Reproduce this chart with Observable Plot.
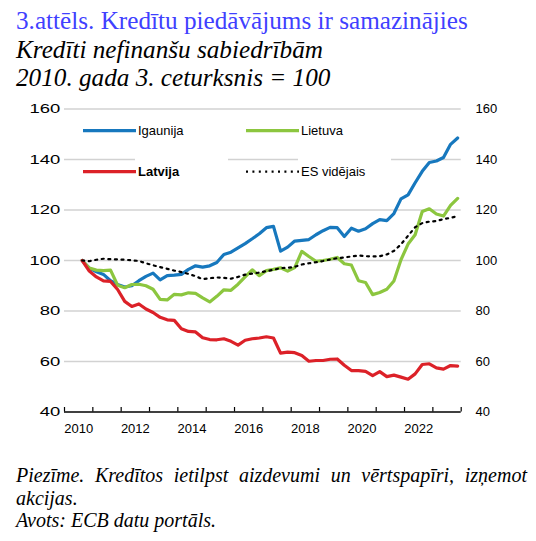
<!DOCTYPE html>
<html>
<head>
<meta charset="utf-8">
<script src="https://cdn.jsdelivr.net/npm/d3@7"></script>
<script src="https://cdn.jsdelivr.net/npm/@observablehq/plot@0.6"></script>
<style>
  html, body { margin: 0; padding: 0; background: #fff; }
  #wrap { position: relative; width: 536px; height: 541px; overflow: hidden; background: #fff; }
  .serif { position: absolute; left: 16px; font-family: "Liberation Serif", "Times New Roman", serif; white-space: nowrap; color: #000; }
  #title { top: 8px; font-size: 25.2px; line-height: 25px; color: #4040ff; }
  #subtitle { top: 35.5px; font-size: 25.2px; line-height: 28.5px; font-style: italic; }
  #caption { top: 464px; width: 511px; font-size: 20px; line-height: 22.5px; font-style: italic; white-space: normal; text-align: justify; }
  #chart { position: absolute; left: 0; top: 96px; }
  #legend { position: absolute; left: 0; top: 0; pointer-events: none; }
</style>
</head>
<body>
<div id="wrap">
  <div id="title" class="serif">3.attēls. Kredītu piedāvājums ir samazinājies</div>
  <div id="subtitle" class="serif">Kredīti nefinanšu sabiedrībām<br>2010. gada 3. ceturksnis = 100</div>
  <div id="chart"></div>
  <svg id="legend" width="536" height="541"></svg>
  <div id="caption" class="serif">Piezīme. Kredītos ietilpst aizdevumi un vērtspapīri, izņemot akcijas.<br>Avots: ECB datu portāls.</div>
</div>
<script>
// Quarters: 2010Q3 ... 2023Q4
const quarters = [];
for (let y = 2010; y <= 2023; y++) for (let q = 1; q <= 4; q++) if (!(y === 2010 && q < 3)) quarters.push(`${y}Q${q}`);

const igaunija = [100, 97, 95.5, 94.5, 92, 90.5, 89.5, 90, 92, 93.7, 95, 92.3, 94, 94.2, 94.5, 96.5, 97.9, 97.4, 97.9, 99.2,
  102.4, 103.3, 105, 106.7, 108.6, 110.6, 113, 113.5, 103.7, 105.3, 107.7, 108, 108.3, 110.2, 111.8, 113.1, 113, 109.5, 112.8, 111.6,
  112.6, 114.6, 116.2, 115.8, 118.6, 124.4, 126, 130.8, 135.3, 138.8, 139.4, 140.8, 146, 148.5];
const lietuva = [100, 97, 96.2, 96, 96.2, 90.2, 89.2, 90.5, 90.6, 90, 88.6, 84.6, 84.4, 86.6, 86.4, 87.2, 87, 85.2, 83.6, 85.8,
  88.4, 88.2, 90.6, 93.5, 96.3, 94, 96, 96.5, 97.1, 95.8, 97.2, 103.6, 101.6, 99.7, 100, 100.5, 101.2, 98.7, 98.2, 92,
  91.3, 86.5, 87.3, 88.6, 91.9, 100.3, 106.5, 110.2, 119.4, 120.5, 118.4, 117.6, 121.8, 124.6];
const latvija = [100, 95.8, 93.5, 91.9, 91.7, 88.5, 83.8, 81.8, 82.8, 80.8, 79.4, 77.5, 76.5, 76.3, 73, 71.9, 71.7, 69.4, 68.7, 68.6,
  69, 68, 66.5, 68.4, 69, 69.3, 69.8, 69.3, 63.3, 63.7, 63.5, 62.4, 60.1, 60.4, 60.4, 60.9, 61, 58.5, 56.4, 56.4,
  56.1, 54.4, 56, 54, 54.6, 53.8, 53, 55.1, 58.8, 59.1, 57.5, 57, 58.4, 58.2];
const esVidejais = [100, 99.7, 100.3, 100.7, 100.5, 100.4, 100.3, 100.1, 99.8, 98.9, 98.1, 97.4, 96.7, 96.0, 95.4, 94.7, 93.8, 92.6, 93.0, 93.3,
  93.1, 92.8, 93.5, 94.4, 94.8, 95.2, 95.8, 96.3, 97.0, 97.1, 97.5, 98.4, 98.9, 99.3, 99.8, 100.4, 100.9, 101.2, 101.6, 102,
  101.7, 101.6, 101.7, 102.4, 103.8, 106.4, 109.8, 113.2, 114.8, 115.4, 115.6, 116.4, 116.9, 117.6];

const seriesNames = ["Igaunija", "Lietuva", "Latvija", "ES vidējais"];
const seriesColors = ["#1778be", "#8cc63f", "#dc2128", "#000000"];
const yTicks = [40, 60, 80, 100, 120, 140, 160];
const gridValues = [60, 80, 100, 120, 140, 160];
const xLabelYears = [2010, 2012, 2014, 2016, 2018, 2020, 2022];
const yearTicks = d3.range(2010, 2025);

const qx = s => +s.slice(0, 4) + (+s.slice(5) - 0.5) / 4;
const rows = quarters.map((q, i) => ({t: qx(q), igaunija: igaunija[i], lietuva: lietuva[i], latvija: latvija[i], es: esVidejais[i]}));

const W = 536, H = 345;
const mT = 12.5, mB = 29.5, mL = 64, mR = 75.3;
const leftPad = 4.5;

const plot = Plot.plot({
  width: W, height: H,
  marginTop: mT, marginBottom: mB, marginLeft: mL, marginRight: mR,
  style: {fontFamily: "'Liberation Sans', Arial, sans-serif", fontSize: "13px", color: "#000", background: "#fff"},
  x: {type: "linear", domain: [2010, 2024], label: null},
  y: {domain: [40, 160], label: null},
  marks: [
    Plot.ruleY(gridValues, {stroke: "#d2d2d2", strokeWidth: 1.6}),
    Plot.ruleX(yearTicks, {x: d => d, insetTop: (H - mT - mB) - 4.5, stroke: "#000", strokeWidth: 1.2}),
    Plot.ruleY([40], {stroke: "#000", strokeWidth: 1.3}),
    Plot.axisY(yTicks, {anchor: "left", tickSize: 0, tickPadding: leftPad, fontSize: 13, label: null}),
    Plot.axisY(yTicks, {anchor: "right", tickSize: 0, tickPadding: 14.3, fontSize: 13, label: null}),
    Plot.axisX(xLabelYears.map(y => y + 0.5), {anchor: "bottom", tickSize: 0, tickPadding: 12, fontSize: 13, label: null, tickFormat: d => String(Math.floor(d))}),
    Plot.line(rows, {x: "t", y: "igaunija", stroke: seriesColors[0], strokeWidth: 3.2, strokeLinejoin: "round"}),
    Plot.line(rows, {x: "t", y: "lietuva", stroke: seriesColors[1], strokeWidth: 3.2, strokeLinejoin: "round"}),
    Plot.line(rows, {x: "t", y: "latvija", stroke: seriesColors[2], strokeWidth: 3.2, strokeLinejoin: "round"}),
    Plot.line(rows, {x: "t", y: "es", stroke: seriesColors[3], strokeWidth: 2.2, strokeDasharray: "2,4.6"})
  ]
});
document.getElementById("chart").appendChild(plot);

// Left tick labels appear horizontally wider in the reference: stretch them about their right edge
const leftLabels = plot.querySelectorAll('g[aria-label="y-axis tick label"]')[0];
if (leftLabels) {
  const ax = mL - leftPad;
  const cur = leftLabels.getAttribute("transform") || "";
  leftLabels.setAttribute("transform", `translate(${ax},0) scale(1.42,1) translate(${-ax},0) ${cur}`);
}

// Legend
const lg = d3.select("#legend");
const entries = [
  {name: seriesNames[0], color: seriesColors[0], x: 83, y: 130.7, bold: false, dash: null},
  {name: seriesNames[1], color: seriesColors[1], x: 246, y: 130.7, bold: false, dash: null},
  {name: seriesNames[2], color: seriesColors[2], x: 83, y: 171.7, bold: true, dash: null},
  {name: seriesNames[3], color: seriesColors[3], x: 246, y: 171.7, bold: false, dash: "2,4.4"}
];
entries.forEach((e, i) => {
  if (i >= 2) lg.append("rect").attr("x", e.x + 52).attr("y", e.y - 16).attr("width", 93).attr("height", 30).attr("fill", "#fff");
  lg.append("line").attr("x1", e.x).attr("x2", e.x + 53).attr("y1", e.y).attr("y2", e.y)
    .attr("stroke", e.color).attr("stroke-width", e.dash ? 2.2 : 3.2).attr("stroke-dasharray", e.dash);
  lg.append("text").attr("x", e.x + 55).attr("y", e.y + 4.6)
    .attr("font-family", "'Liberation Sans', Arial, sans-serif").attr("font-size", 13)
    .attr("font-weight", e.bold ? "bold" : null).attr("fill", "#000").text(e.name);
});
</script>
</body>
</html>
